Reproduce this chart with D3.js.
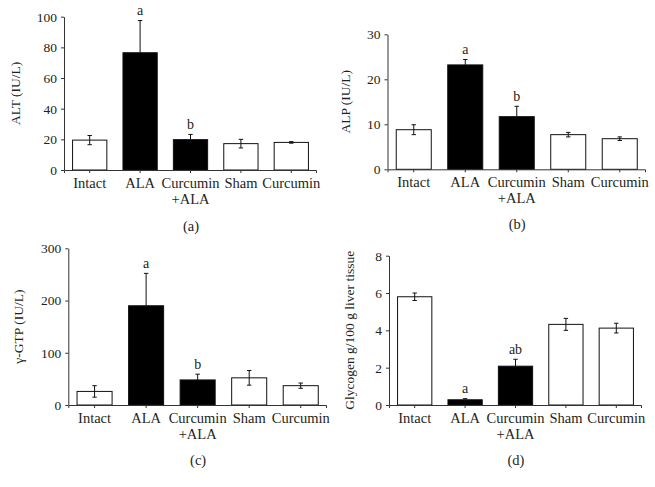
<!DOCTYPE html>
<html>
<head>
<meta charset="utf-8">
<script src="https://cdn.jsdelivr.net/npm/d3@7"></script>
<style>
  html, body { margin: 0; padding: 0; background: #fff; }
  svg text { font-family: "Liberation Serif", "DejaVu Serif", serif; fill: #231f20; }
</style>
</head>
<body>
<svg id="chart" width="655" height="487"></svg>
<script>
// ---- Data ----
const categories = [["Intact"], ["ALA"], ["Curcumin", "+ALA"], ["Sham"], ["Curcumin"]];
const barFills = ["white", "black", "black", "white", "white"];

const altMean = [19.5, 76.5, 19.8, 17.2, 18.0];
const altErr  = [3.0, 21.0, 3.4, 2.8, 0.5];
const altSig  = ["", "a", "b", "", ""];
const altTicks = [0, 20, 40, 60, 80, 100];

const alpMean = [8.8, 23.2, 11.7, 7.7, 6.8];
const alpErr  = [1.1, 1.2, 2.3, 0.5, 0.4];
const alpSig  = ["", "a", "b", "", ""];
const alpTicks = [0, 10, 20, 30];

const ggtMean = [26, 190, 48, 52, 37];
const ggtErr  = [11, 62, 11, 14, 5];
const ggtSig  = ["", "a", "b", "", ""];
const ggtTicks = [0, 100, 200, 300];

const glyMean = [5.8, 0.28, 2.08, 4.32, 4.12];
const glyErr  = [0.2, 0.06, 0.37, 0.32, 0.26];
const glySig  = ["", "a", "ab", "", ""];
const glyTicks = [0, 2, 4, 6, 8];

// ---- Layout (positions only) ----
const panels = [
  { mean: altMean, err: altErr, sig: altSig, ticks: altTicks, label: "ALT (IU/L)", tag: "(a)",
    x0: 64, x1: 316, yTop: 16.7, yBot: 170, labelX: 19.5, tagY: 231 },
  { mean: alpMean, err: alpErr, sig: alpSig, ticks: alpTicks, label: "ALP (IU/L)", tag: "(b)",
    x0: 387.5, x1: 645, yTop: 34.3, yBot: 169.3, labelX: 349.5, tagY: 229 },
  { mean: ggtMean, err: ggtErr, sig: ggtSig, ticks: ggtTicks, label: "γ-GTP (IU/L)", tag: "(c)",
    x0: 68.3, x1: 326, yTop: 248.3, yBot: 405, labelX: 22.5, tagY: 465 },
  { mean: glyMean, err: glyErr, sig: glySig, ticks: glyTicks, label: "Glycogen g/100 g liver tissue", tag: "(d)",
    x0: 389, x1: 641, yTop: 255.7, yBot: 405, labelX: 354, tagY: 465 }
];

const svg = d3.select("#chart");
const axisColor = "#333";

panels.forEach(p => {
  const g = svg.append("g");
  const x = d3.scaleBand().domain(d3.range(categories.length)).range([p.x0, p.x1])
    .paddingInner(0.32).paddingOuter(0.16);
  const yMax = p.ticks[p.ticks.length - 1];
  const y = d3.scaleLinear().domain([0, yMax]).range([p.yBot, p.yTop]);

  // bars
  g.selectAll("rect.bar").data(p.mean).join("rect")
    .attr("class", "bar")
    .attr("x", (d, i) => x(i) + 0.5)
    .attr("y", d => y(d))
    .attr("width", x.bandwidth())
    .attr("height", d => y(0) - y(d))
    .attr("fill", (d, i) => barFills[i])
    .attr("stroke", "#111")
    .attr("stroke-width", 1);

  // error bars (black bars show only the upper half)
  const cx = i => x(i) + x.bandwidth() / 2 + 0.5;
  const capW = 2.2;
  p.mean.forEach((m, i) => {
    const e = p.err[i];
    const top = y(m + e);
    const bot = barFills[i] === "black" ? y(m) : y(Math.max(0, m - e));
    g.append("line").attr("x1", cx(i)).attr("x2", cx(i)).attr("y1", top).attr("y2", bot)
      .attr("stroke", "#111").attr("stroke-width", 1);
    g.append("line").attr("x1", cx(i) - capW).attr("x2", cx(i) + capW).attr("y1", top).attr("y2", top)
      .attr("stroke", "#111").attr("stroke-width", 1);
    if (barFills[i] !== "black") {
      g.append("line").attr("x1", cx(i) - capW).attr("x2", cx(i) + capW).attr("y1", bot).attr("y2", bot)
        .attr("stroke", "#111").attr("stroke-width", 1);
    }
    if (p.sig[i]) {
      g.append("text").attr("x", cx(i)).attr("y", top - 5.5)
        .attr("text-anchor", "middle").attr("font-size", 14).text(p.sig[i]);
    }
  });

  // y axis
  const yAxis = g.append("g").attr("transform", `translate(${p.x0},0)`)
    .call(d3.axisLeft(y).tickValues(p.ticks).tickSize(3).tickSizeOuter(0).tickPadding(4));
  yAxis.selectAll("path, line").attr("stroke", axisColor);
  yAxis.selectAll("text").attr("font-size", 13.5)
    .style("font-family", '"Liberation Serif", serif').attr("fill", "#231f20");

  // x axis
  const xAxis = g.append("g").attr("transform", `translate(0,${p.yBot})`)
    .call(d3.axisBottom(x).tickSize(3).tickSizeOuter(3).tickFormat(""));
  xAxis.selectAll("path, line").attr("stroke", axisColor);
  xAxis.selectAll(".tick line").attr("transform", "translate(0.5,0)");

  // category labels
  categories.forEach((lines, i) => {
    lines.forEach((t, k) => {
      g.append("text").attr("x", cx(i)).attr("y", p.yBot + 17.5 + k * 16)
        .attr("text-anchor", "middle").attr("font-size", 14.5).text(t);
    });
  });

  // y label
  g.append("text")
    .attr("transform", `translate(${p.labelX},${(p.yTop + p.yBot) / 2}) rotate(-90)`)
    .attr("text-anchor", "middle").attr("font-size", 13.5).text(p.label);

  // panel tag
  g.append("text").attr("x", (p.x0 + p.x1) / 2 + 1).attr("y", p.tagY)
    .attr("text-anchor", "middle").attr("font-size", 14.5).text(p.tag);
});
</script>
</body>
</html>
